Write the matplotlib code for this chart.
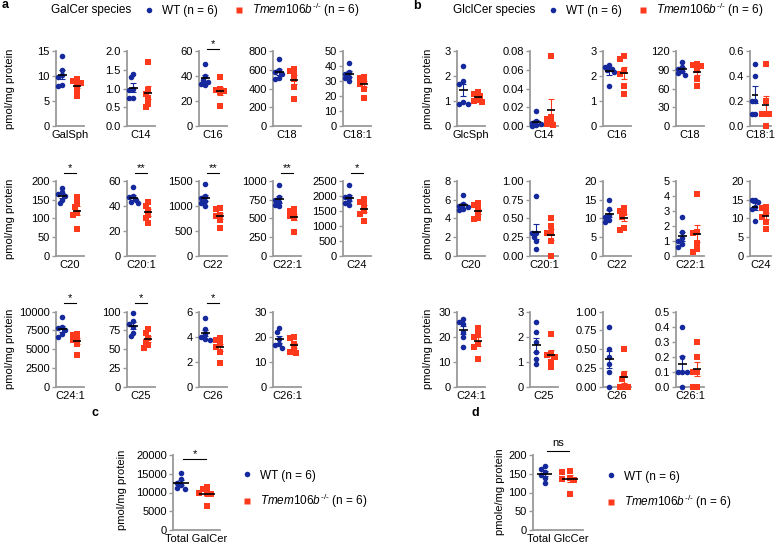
import matplotlib.pyplot as plt
import numpy as np
from matplotlib.lines import Line2D

plt.rcParams["font.family"] = ["Liberation Sans", "DejaVu Sans"]
plt.rcParams["mathtext.fontset"] = "custom"
plt.rcParams["mathtext.rm"] = "Liberation Sans"
plt.rcParams["mathtext.it"] = "Liberation Sans:italic"
plt.rcParams["font.size"] = 8

WT_COLOR = "#15299c"
KO_COLOR = "#ff3a1c"
AXIS_GRAY = "#9a9a9a"
KO_LABEL = r"$\mathit{Tmem106b}^{\mathit{\text{-/-}}}$ (n = 6)"
WT_LABEL = "WT (n = 6)"

# panel a: GalCer species
a_species = ["GalSph", "C14", "C16", "C18", "C18:1",
             "C20", "C20:1", "C22", "C22:1", "C24",
             "C24:1", "C25", "C26", "C26:1"]
a_wt = [
    [14.0, 11.3, 10.3, 9.8, 8.2, 8.0],
    [1.4, 1.3, 1.0, 0.95, 0.75, 0.75],
    [50, 40, 37, 35, 34, 33],
    [710, 600, 580, 560, 510, 500],
    [42, 36, 35, 33, 32, 30],
    [182, 170, 165, 160, 150, 140],
    [55, 48, 47, 45, 43, 42],
    [1430, 1200, 1150, 1100, 1050, 1000],
    [950, 780, 740, 720, 680, 660],
    [2350, 2000, 1950, 1850, 1750, 1700],
    [9300, 8000, 7800, 7500, 7000, 6600],
    [98, 87, 83, 80, 72, 67],
    [5.5, 4.6, 4.2, 4.0, 3.8, 3.7],
    [23.5, 22, 19, 17, 16.5, 15.5],
]
a_ko = [
    [9.4, 9.0, 8.7, 8.2, 7.2, 6.1],
    [1.7, 0.95, 0.85, 0.75, 0.6, 0.5],
    [39, 30, 29, 28, 27, 16],
    [610, 590, 560, 500, 420, 290],
    [33, 32, 30, 28, 25, 19],
    [158, 140, 130, 115, 110, 73],
    [43, 40, 37, 33, 30, 26],
    [960, 930, 820, 800, 720, 550],
    [620, 600, 560, 530, 500, 320],
    [1900, 1800, 1700, 1500, 1400, 1150],
    [7000, 6900, 6400, 6200, 5700, 4200],
    [77, 72, 65, 60, 55, 52],
    [3.9, 3.7, 3.4, 3.2, 2.8, 1.9],
    [20, 19.5, 17, 15, 14, 13.5],
]
a_ymax = [15, 2.0, 60, 800, 50, 200, 60, 1500, 1000, 2500, 10000, 100, 6, 30]
a_ystep = [5, 0.5, 20, 200, 10, 50, 20, 500, 250, 500, 2500, 25, 2, 10]
a_sig = ["", "", "*", "", "", "*", "**", "**", "**", "*", "*", "*", "*", ""]

# panel b: GlcCer species
b_species = ["GlcSph", "C14", "C16", "C18", "C18:1",
             "C20", "C20:1", "C22", "C22:1", "C24",
             "C24:1", "C25", "C26", "C26:1"]
b_wt = [
    [2.4, 1.8, 1.7, 0.95, 0.9, 0.9],
    [0.016, 0.005, 0.003, 0.002, 0.001, 0.0],
    [2.45, 2.35, 2.3, 2.25, 2.15, 1.6],
    [103, 95, 92, 88, 85, 82],
    [0.5, 0.4, 0.2, 0.2, 0.1, 0.1],
    [6.5, 5.5, 5.3, 5.2, 5.0, 4.9],
    [0.8, 0.3, 0.3, 0.25, 0.2, 0.1],
    [15, 12.5, 11, 10.5, 9.5, 9.0],
    [2.6, 1.6, 1.2, 1.0, 0.8, 0.6],
    [15, 14.8, 14.5, 13, 12.5, 9.3],
    [27, 26, 25, 22, 20, 16],
    [2.6, 2.2, 1.8, 1.4, 1.1, 0.9],
    [0.8, 0.5, 0.4, 0.3, 0.2, 0.0],
    [0.4, 0.2, 0.1, 0.1, 0.1, 0.0],
]
b_ko = [
    [1.35, 1.3, 1.2, 1.05, 1.0, 0.95],
    [0.075, 0.01, 0.008, 0.005, 0.002, 0.001],
    [2.8, 2.7, 2.2, 2.1, 1.6, 1.3],
    [100, 98, 96, 90, 75, 64],
    [0.5, 0.2, 0.1, 0.1, 0.1, 0.0],
    [5.7, 5.4, 5.0, 4.5, 4.0, 3.9],
    [0.5, 0.4, 0.3, 0.3, 0.2, 0.0],
    [12.8, 12, 11.5, 10.5, 7.5, 7.0],
    [4.1, 1.6, 1.5, 0.9, 0.5, 0.3],
    [13, 12.8, 11.5, 10.5, 9, 7.3],
    [23.5, 21, 20, 17, 16, 11],
    [2.1, 1.3, 1.25, 1.2, 1.0, 0.8],
    [0.5, 0.15, 0.1, 0.0, 0.0, 0.0],
    [0.3, 0.2, 0.1, 0.1, 0.0, 0.0],
]
b_ymax = [3, 0.08, 3, 120, 0.6, 8, 1.0, 20, 5, 20, 30, 3, 1.0, 0.5]
b_ystep = [1, 0.02, 1, 30, 0.2, 2, 0.25, 5, 1, 5, 10, 1, 0.25, 0.1]

# panels c and d: totals
c_wt = [15200, 13500, 12500, 12000, 11200, 11000]
c_ko = [11500, 11000, 10000, 9800, 9500, 6500]
d_wt = [172, 162, 155, 148, 140, 125]
d_ko = [158, 155, 140, 137, 133, 96]

W, H = 777, 546
fig = plt.figure(figsize=(W / 100, H / 100), dpi=100)


def px_axes(left, top, width, height):
    return fig.add_axes([left / W, 1 - (top + height) / H, width / W, height / H])


def swarm(vals, ymax, xrange_units, width_px, height_px=75, r_px=4.2, step=0.15):
    # simple beeswarm: shift a point sideways only when it would sit on another
    placed, offs = [], []
    upx = width_px / xrange_units
    for v in vals:
        y = v / ymax * height_px
        best, best_d = 0, -1
        for k in [0, -1, 1, -2, 2]:
            x = k * step * upx
            d = min([np.hypot(x - px, y - py) for px, py in placed] or [99])
            if d >= r_px:
                best = k
                break
            if d > best_d:
                best, best_d = k, d
        placed.append((best * step * upx, y))
        offs.append(best * step)
    return np.array(offs)


def decimals(step):
    return 0 if step >= 1 else len(repr(step).split(".")[1])


def dot_panel(ax, wt, ko, ymax, ystep, name, sig="", sig_y=1.1,
              xlim=(-0.45, 1.5), width_px=28):
    groups = [(wt, WT_COLOR, "o", 16), (ko, KO_COLOR, "s", 15)]
    for i, (vals, color, marker, size) in enumerate(groups):
        vals = np.asarray(vals, dtype=float)
        x = i + swarm(vals, ymax, xlim[1] - xlim[0], width_px)
        ax.scatter(x, vals, s=size, c=color, marker=marker, lw=0,
                   zorder=3, clip_on=False)
        mean = vals.mean()
        sem = vals.std(ddof=1) / np.sqrt(len(vals))
        ax.errorbar(i, mean, yerr=sem, fmt="none", ecolor=color,
                    elinewidth=0.8, capsize=2.2, capthick=0.8, zorder=4)
        ax.hlines(mean, i - 0.3, i + 0.3, color="k", lw=1.2, zorder=5)
    ax.set_xlim(*xlim)
    ax.set_ylim(0, ymax)
    ticks = np.arange(0, ymax + ystep / 2, ystep)
    dec = decimals(ystep)
    ax.set_yticks(ticks)
    ax.set_yticklabels([f"{t:.{dec}f}" for t in ticks])
    ax.set_xticks([])
    ax.set_xlabel(name, labelpad=3)
    for side in ["top", "right"]:
        ax.spines[side].set_visible(False)
    for side in ["left", "bottom"]:
        ax.spines[side].set_color(AXIS_GRAY)
        ax.spines[side].set_linewidth(1.3)
    ax.tick_params(axis="y", length=3, width=1.0, color=AXIS_GRAY, pad=1.5)
    if sig:
        trans = ax.get_xaxis_transform()
        ax.plot([0.1, 0.95], [sig_y, sig_y], transform=trans, color="k",
                lw=0.8, clip_on=False)
        ax.annotate(sig, xy=(0.525, sig_y), xycoords=trans,
                    xytext=(0, 1.5 if sig != "ns" else 3.5),
                    textcoords="offset points", ha="center", va="baseline")


row_tops = [51, 181, 311.7]
a_lefts = [56, 127, 199, 273, 343]
b_lefts = [457, 530, 603, 676, 750]
b_widths = [28, 28, 28, 28, 21]
row_sig_y = [1.03, 1.11, 1.12]

for k in range(14):
    r, c = divmod(k, 5)
    ax = px_axes(a_lefts[c], row_tops[r], 28, 75)
    dot_panel(ax, a_wt[k], a_ko[k], a_ymax[k], a_ystep[k], a_species[k],
              a_sig[k], row_sig_y[r])
    ax = px_axes(b_lefts[c], row_tops[r], b_widths[c], 75)
    dot_panel(ax, b_wt[k], b_ko[k], b_ymax[k], b_ystep[k], b_species[k],
              width_px=b_widths[c])

for top in row_tops:
    yc = 1 - (top + 37.5) / H
    fig.text(10 / W, yc, "pmol/mg protein", rotation=90, ha="center", va="center")
    fig.text(428 / W, yc, "pmol/mg protein", rotation=90, ha="center", va="center")

ax_c = px_axes(173, 455, 47, 75)
dot_panel(ax_c, c_wt, c_ko, 20000, 5000, "Total GalCer", "*", 0.95,
          xlim=(-0.3, 1.5), width_px=47)
ax_d = px_axes(533, 455, 50, 75)
dot_panel(ax_d, d_wt, d_ko, 200, 50, "Total GlcCer", "ns", 1.05,
          xlim=(-0.45, 1.5), width_px=50)
fig.text(122 / W, 1 - 490 / H, "pmol/mg protein", rotation=90, ha="center", va="center")
fig.text(500 / W, 1 - 492 / H, "pmole/mg protein", rotation=90, ha="center", va="center")

handles = [
    Line2D([], [], ls="none", marker="o", ms=4, mfc=WT_COLOR, mec="none"),
    Line2D([], [], ls="none", marker="s", ms=3.8, mfc=KO_COLOR, mec="none"),
]
labels = [WT_LABEL, KO_LABEL]
legend_kw = dict(frameon=False, handlelength=1, handletextpad=0.6,
                 borderaxespad=0, borderpad=0, fontsize=8.5)

fig.text(51 / W, 1 - 10 / H, "GalCer species", ha="left", va="center", fontsize=8.5)
fig.legend(handles, labels, loc="center left", ncol=2, columnspacing=1.3,
           bbox_to_anchor=(143 / W, 1 - 10 / H), **legend_kw)
fig.text(453 / W, 1 - 10 / H, "GlclCer species", ha="left", va="center", fontsize=8.5)
fig.legend(handles, labels, loc="center left", ncol=2, columnspacing=1.3,
           bbox_to_anchor=(547 / W, 1 - 10 / H), **legend_kw)

fig.legend(handles, labels, loc="center left", labelspacing=0.9,
           bbox_to_anchor=(241 / W, 1 - 490 / H), **legend_kw)
fig.legend(handles, labels, loc="center left", labelspacing=0.9,
           bbox_to_anchor=(605 / W, 1 - 491 / H), **legend_kw)

letter_kw = dict(fontsize=9, fontweight="bold", va="center")
fig.text(2 / W, 1 - 5 / H, "a", ha="left", **letter_kw)
fig.text(413 / W, 1 - 6 / H, "b", ha="left", **letter_kw)
fig.text(99 / W, 1 - 413 / H, "c", ha="right", **letter_kw)
fig.text(479 / W, 1 - 413 / H, "d", ha="right", **letter_kw)

fig.savefig("out.png", dpi=100)
